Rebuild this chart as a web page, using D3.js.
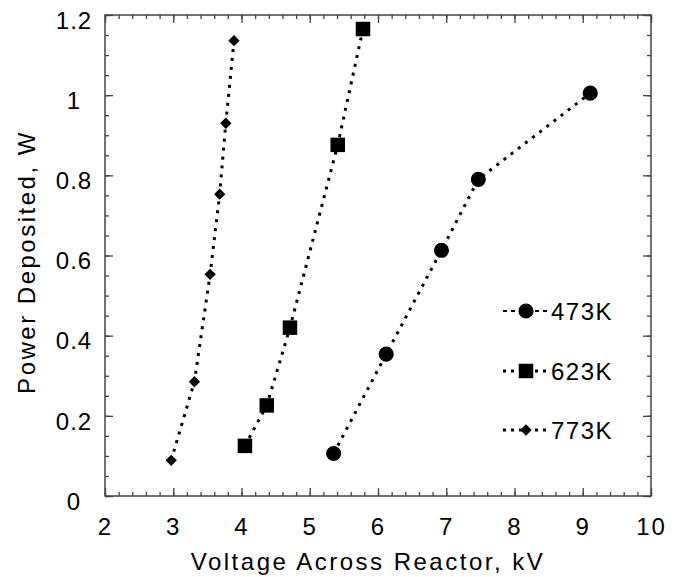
<!DOCTYPE html>
<html>
<head>
<meta charset="utf-8">
<script src="https://cdn.jsdelivr.net/npm/d3@7/dist/d3.min.js"></script>
<style>
    body { margin: 0; background: #fff; }
    text { font-family: Arial, "Liberation Sans", sans-serif; fill: #000; }
</style>
</head>
<body>
<div id="chart"></div>
<script>
// values (voltage in kV, power in W)
var volt473 = [5.35, 6.12, 6.93, 7.47, 9.11];
var power473 = [0.106, 0.354, 0.613, 0.790, 1.005];

var volt623 = [4.05, 4.37, 4.71, 5.41, 5.78];
var power623 = [0.125, 0.226, 0.420, 0.876, 1.165];

var volt773 = [2.97, 3.31, 3.54, 3.68, 3.77, 3.89];
var power773 = [0.089, 0.285, 0.553, 0.753, 0.930, 1.136];

var seriesNames = ["473K", "623K", "773K"];

var xTicks = [2, 3, 4, 5, 6, 7, 8, 9, 10];
var yTicks = [0, 0.2, 0.4, 0.6, 0.8, 1, 1.2];

// dimensions
var width = 681;
var height = 577;
var margin = {
    top: 15,
    right: 30,
    bottom: 81,
    left: 105
};
var plotW = width - margin.left - margin.right;
var plotH = height - margin.top - margin.bottom;

var svg = d3.select("#chart")
    .append("svg")
    .attr("width", width)
    .attr("height", height);

var g = svg.append("g")
    .attr("transform", "translate(" + margin.left + "," + margin.top + ")");

var x = d3.scaleLinear().domain([2, 10]).range([0, plotW]);
var y = d3.scaleLinear().domain([0, 1.2]).range([plotH, 0]);

// minor ticks every 0.2 kV and 0.05 W
var xMinor = d3.range(2, 10.01, 0.2);
var yMinor = d3.range(0, 1.201, 0.05);

var axisColor = "#444";

function styleAxis(sel) {
    sel.select(".domain").remove();
    sel.selectAll("line").attr("stroke", axisColor).attr("stroke-width", 1.3);
}

// inward ticks on all four sides
g.append("g").attr("transform", "translate(0," + plotH + ")")
    .call(d3.axisBottom(x).tickValues(xMinor).tickSize(-4).tickFormat(""))
    .call(styleAxis);
g.append("g")
    .call(d3.axisTop(x).tickValues(xMinor).tickSize(-4).tickFormat(""))
    .call(styleAxis);
g.append("g")
    .call(d3.axisLeft(y).tickValues(yMinor).tickSize(-4).tickFormat(""))
    .call(styleAxis);
g.append("g").attr("transform", "translate(" + plotW + ",0)")
    .call(d3.axisRight(y).tickValues(yMinor).tickSize(-4).tickFormat(""))
    .call(styleAxis);

var xAxis = g.append("g").attr("transform", "translate(0," + plotH + ")")
    .call(d3.axisBottom(x).tickValues(xTicks).tickSize(-8).tickFormat(d3.format("d")))
    .call(styleAxis);
xAxis.selectAll("text")
    .attr("y", 39)
    .attr("dy", null)
    .style("font-size", "24px")
    .style("letter-spacing", "2px")
    .attr("text-anchor", "middle");

g.append("g")
    .call(d3.axisTop(x).tickValues(xTicks).tickSize(-8).tickFormat(""))
    .call(styleAxis);

var yAxis = g.append("g")
    .call(d3.axisLeft(y).tickValues(yTicks).tickSize(-8).tickFormat(function (d) { return d3.format("")(d); }))
    .call(styleAxis);
yAxis.selectAll("text")
    .attr("x", -31)
    .attr("dy", "0.55em")
    .style("font-size", "24px")
    .style("letter-spacing", "1px")
    .attr("text-anchor", "middle");

g.append("g").attr("transform", "translate(" + plotW + ",0)")
    .call(d3.axisRight(y).tickValues(yTicks).tickSize(-8).tickFormat(""))
    .call(styleAxis);

// frame
g.append("rect")
    .attr("width", plotW)
    .attr("height", plotH)
    .attr("fill", "none")
    .attr("stroke", axisColor)
    .attr("stroke-width", 1.5);

// axis titles
svg.append("text")
    .attr("x", margin.left + plotW / 2 - 10)
    .attr("y", 570)
    .attr("text-anchor", "middle")
    .style("font-size", "24px")
    .style("letter-spacing", "2.5px")
    .text("Voltage Across Reactor, kV");

svg.append("text")
    .attr("transform", "translate(35," + 262 + ") rotate(-90)")
    .attr("text-anchor", "middle")
    .style("font-size", "24px")
    .style("letter-spacing", "2.5px")
    .text("Power Deposited, W");

// series
var symCircle = d3.symbol().type(d3.symbolCircle).size(180);
var symSquare = d3.symbol().type(d3.symbolSquare).size(210);
var symDiamond = d3.symbol().type(d3.symbolSquare).size(64);

var series = [
    { name: seriesNames[0], xs: volt473, ys: power473, sym: symCircle, rot: 0 },
    { name: seriesNames[1], xs: volt623, ys: power623, sym: symSquare, rot: 0 },
    { name: seriesNames[2], xs: volt773, ys: power773, sym: symDiamond, rot: 45 }
];

var line = d3.line()
    .x(function (d) { return x(d[0]); })
    .y(function (d) { return y(d[1]); });

series.forEach(function (s) {
    var pts = s.xs.map(function (v, i) { return [v, s.ys[i]]; });

    g.append("path")
        .datum(pts)
        .attr("d", line)
        .attr("fill", "none")
        .attr("stroke", "#000")
        .attr("stroke-width", 3)
        .attr("stroke-dasharray", "3,6");

    g.selectAll(null)
        .data(pts)
        .enter()
        .append("path")
        .attr("d", s.sym)
        .attr("fill", "#000")
        .attr("transform", function (d) {
            return "translate(" + x(d[0]) + "," + y(d[1]) + ") rotate(" + s.rot + ")";
        });
});

// legend
var legendX = 526;
var legendY = [311, 371, 430];

series.forEach(function (s, i) {
    var lg = svg.append("g")
        .attr("transform", "translate(" + legendX + "," + legendY[i] + ")");

    lg.append("line")
        .attr("x1", -23)
        .attr("x2", 21)
        .attr("stroke", "#000")
        .attr("stroke-width", i == 0 ? 2 : 3)
        .attr("stroke-dasharray", i == 0 ? "4,4" : "3,5");

    lg.append("path")
        .attr("d", s.sym)
        .attr("fill", "#000")
        .attr("transform", "rotate(" + s.rot + ")");

    lg.append("text")
        .attr("x", 25)
        .attr("dy", "0.36em")
        .style("font-size", "24px")
        .style("letter-spacing", "1.5px")
        .text(s.name);
});
</script>
</body>
</html>
